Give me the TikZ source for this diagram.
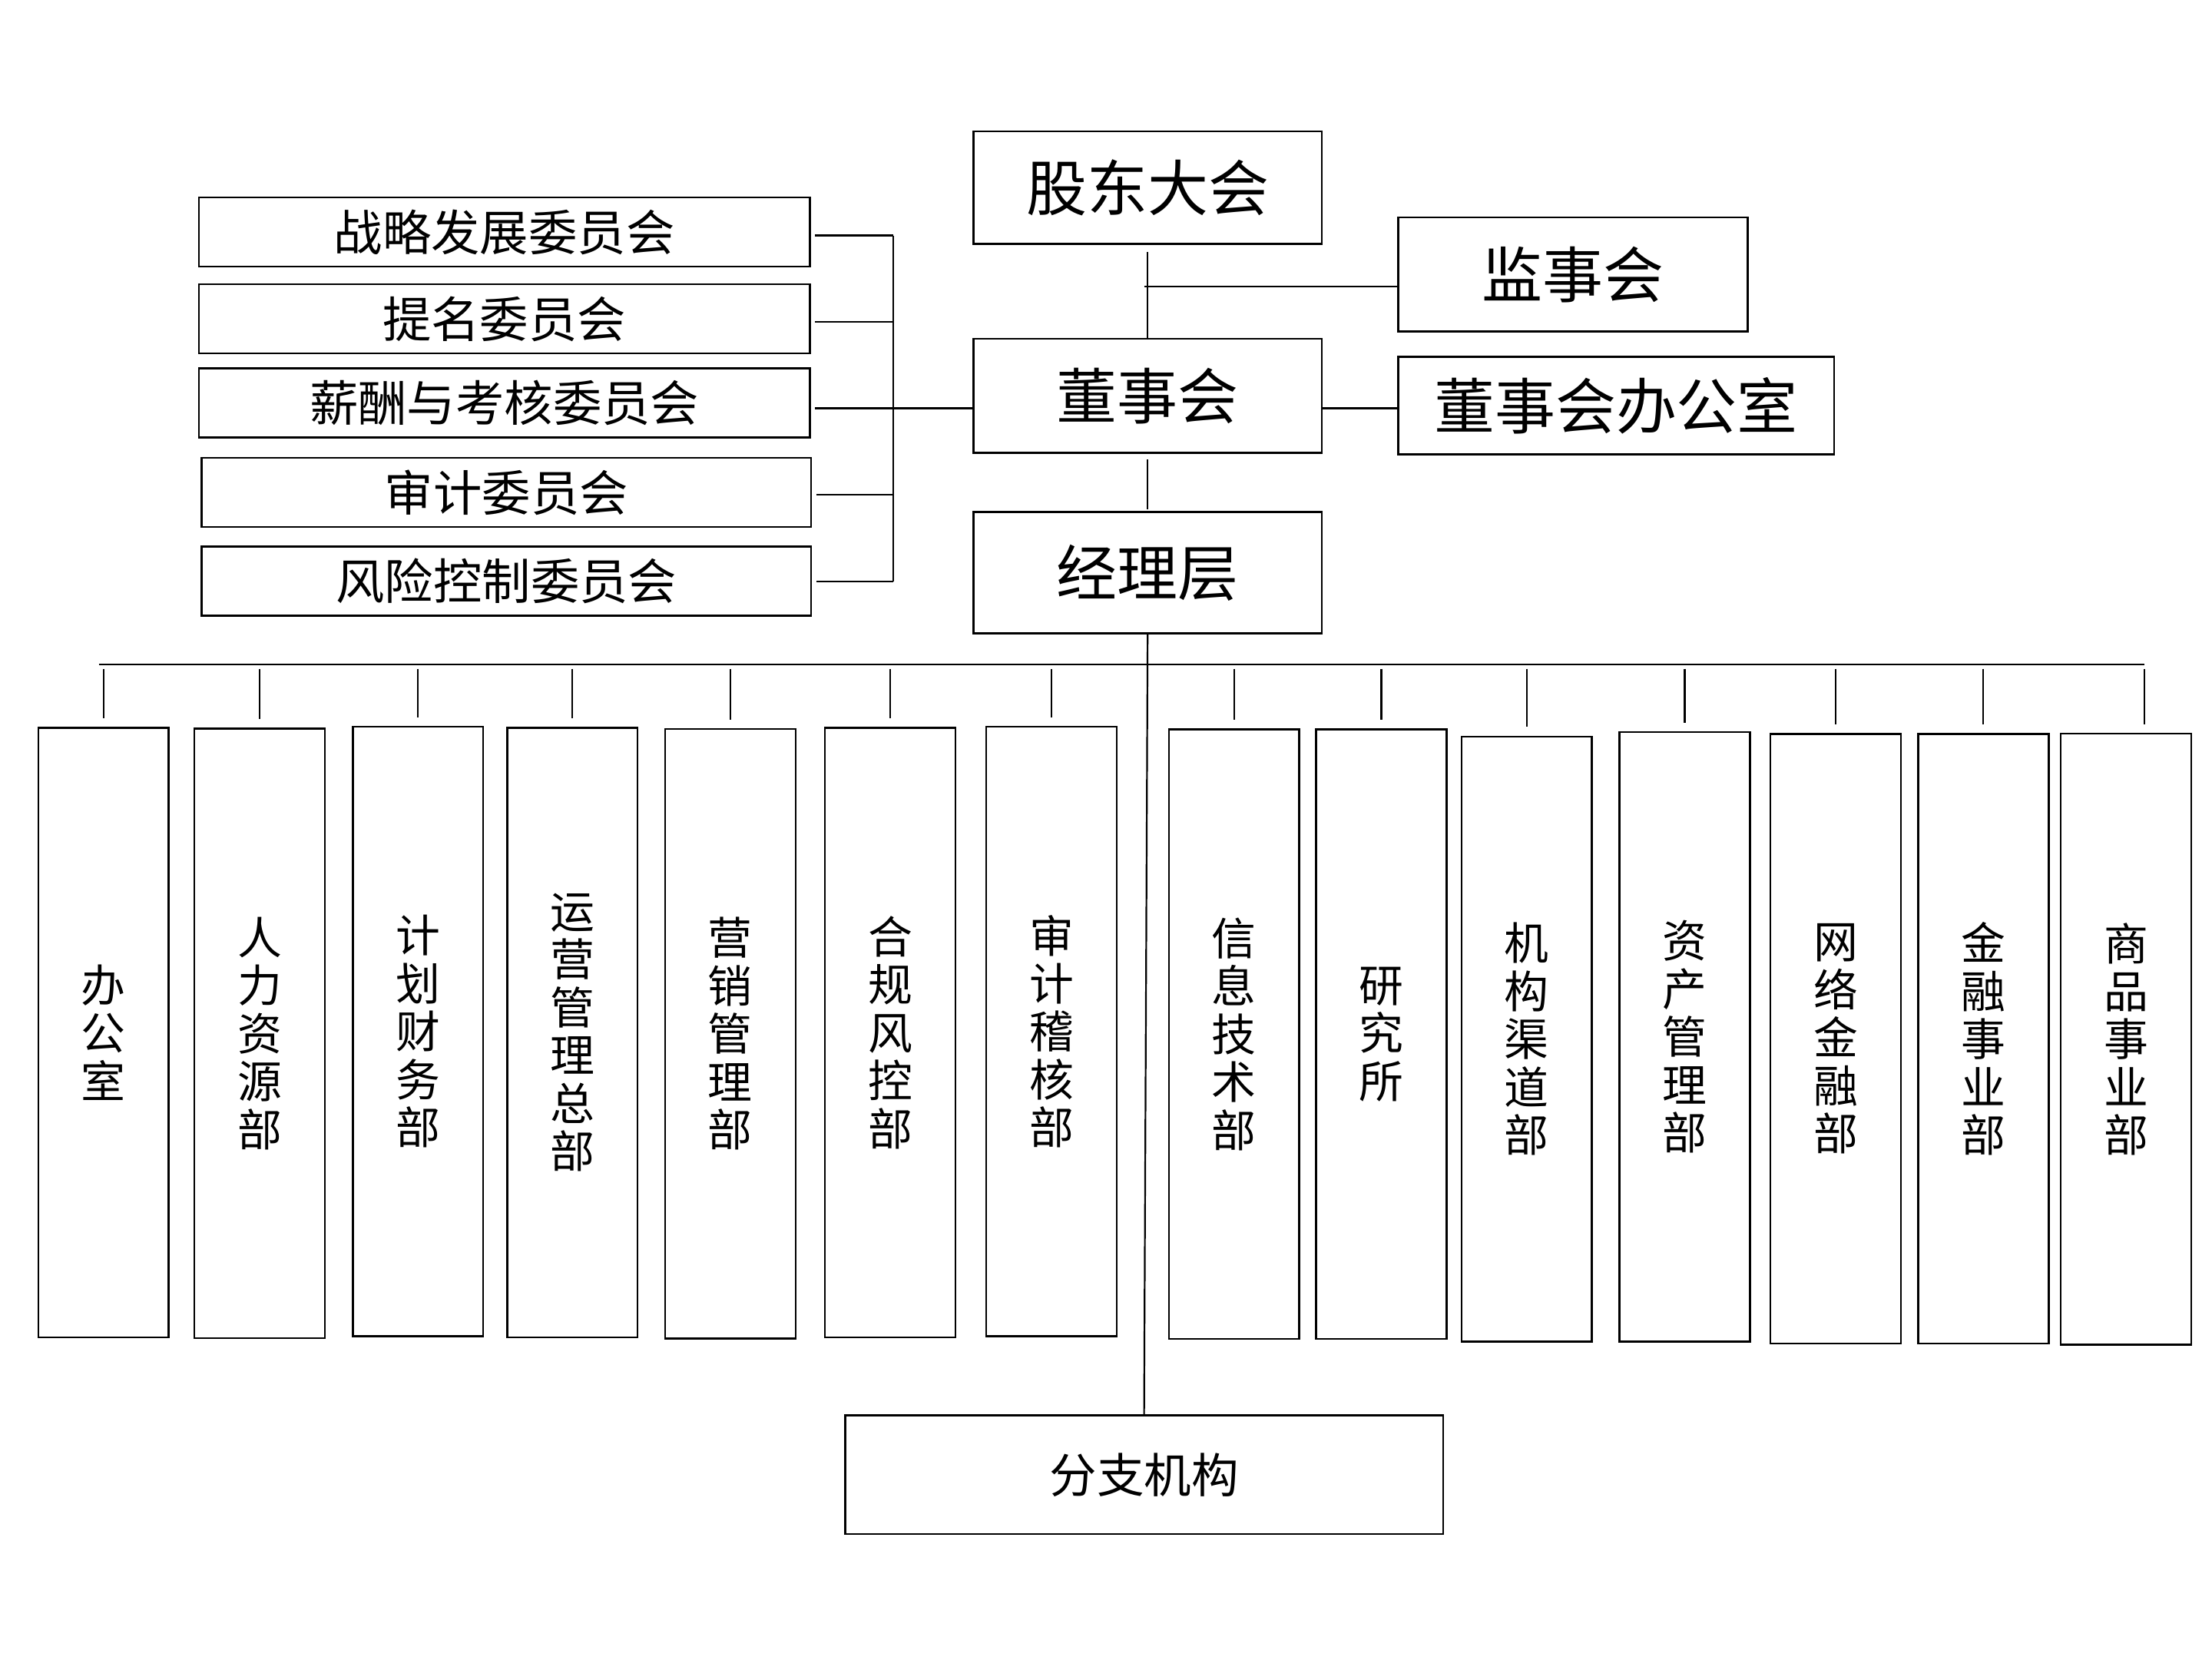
\documentclass[tikz,border=0pt]{standalone}
\usepackage{fontspec}
\setmainfont{Noto Sans CJK SC}
\begin{document}
\begin{tikzpicture}[x=1pt,y=-1pt,
  box/.style={draw=black, line width=1.4pt, fill=white, inner sep=0pt, align=center, anchor=center},
  big/.style={box, font=\fontsize{43}{50}\selectfont},
  cmte/.style={box, minimum width=433pt, minimum height=49pt, font=\fontsize{34.5}{38}\selectfont},
  dept/.style={box, minimum width=92.5pt, minimum height=432pt, font=\fontsize{31.5}{34}\selectfont},
  conn/.style={line width=1.2pt}]
\fill[white] (0,0) rectangle (1568,1176);
\useasboundingbox (0,0) rectangle (1568,1176);

% top level
\node[big, minimum width=247pt, minimum height=80pt] (gd) at (813.5,133) {股东大会};
\node[big, minimum width=248pt, minimum height=81pt] (js) at (1115,194.5) {监事会};
\node[big, minimum width=247pt, minimum height=81pt] (ds) at (813.5,280.5) {董事会};
\node[big, minimum width=309pt, minimum height=69pt] (dsb) at (1145.5,287.5) {董事会办公室};
\node[big, minimum width=247pt, minimum height=86pt] (jl) at (813.5,406) {经理层};

% committees
\node[cmte] (c1) at (357.5,164.5) {战略发展委员会};
\node[cmte] (c2) at (357.5,226) {提名委员会};
\node[cmte] (c3) at (357.5,285.7) {薪酬与考核委员会};
\node[cmte, minimum width=432pt] (c4) at (359,349) {审计委员会};
\node[cmte, minimum width=432pt] (c5) at (359,412) {风险控制委员会};

% departments
\node[dept] (d1) at (73.4,731.8) {办\\公\\室};
\node[dept] (d2) at (184,732.5) {人\\力\\资\\源\\部};
\node[dept] (d3) at (296.3,731) {计\\划\\财\\务\\部};
\node[dept] (d4) at (405.7,731.8) {运\\营\\管\\理\\总\\部};
\node[dept] (d5) at (517.7,732.7) {营\\销\\管\\理\\部};
\node[dept] (d6) at (631,731.8) {合\\规\\风\\控\\部};
\node[dept] (d7) at (745.3,731) {审\\计\\稽\\核\\部};
\node[dept] (d8) at (874.8,733) {信\\息\\技\\术\\部};
\node[dept] (d9) at (979.2,733) {研\\究\\所};
\node[dept, minimum height=429pt] (d10) at (1082.2,736.5) {机\\构\\渠\\道\\部};
\node[dept] (d11) at (1194.2,734.9) {资\\产\\管\\理\\部};
\node[dept] (d12) at (1301.2,736.3) {网\\络\\金\\融\\部};
\node[dept] (d13) at (1405.9,736.3) {金\\融\\事\\业\\部};
\node[dept, minimum height=433pt] (d14) at (1507,736.5) {商\\品\\事\\业\\部};

\node[box, minimum width=424pt, minimum height=84pt, font=\fontsize{33.5}{38}\selectfont] (fz) at (811,1045.2) {分支机构};

% coordinates
\coordinate (supj) at (811,203);
\coordinate (mid) at (633,289.4);
\coordinate (brT) at (633,166.9);
\coordinate (brB) at (633,412);
\coordinate (barL) at (70,471);
\coordinate (barR) at (1520,471);

% vertical spine
\draw[conn, shorten <=5pt] (gd.south) -- (ds.north);
\draw[conn] (supj) -- (js.west |- supj);
\draw[conn, shorten <=4pt, shorten >=1.5pt] (ds.south) -- (jl.north);
\draw[conn] (jl.south) -- (fz.north);
\draw[conn] (ds.east |- mid) -- (dsb.west |- mid);

% committee bracket
\draw[conn] (brT) -- (brB);
\draw[conn] (mid) -- (ds.west |- mid);
\draw[conn, shorten <=3pt] (c1.east |- brT) -- (brT);
\draw[conn, shorten <=3pt] (c2.east |- 0,228) -- (mid |- 0,228);
\draw[conn, shorten <=3pt] (c3.east |- mid) -- (mid);
\draw[conn, shorten <=3pt] (c4.east |- 0,350.6) -- (mid |- 0,350.6);
\draw[conn, shorten <=3pt] (c5.east |- brB) -- (brB);

% department bar
\draw[conn] (barL) -- (barR);
\foreach \d in {d1,d2,d3,d4,d5,d6,d7,d8,d9,d10,d11,d12,d13}{
  \draw[conn, shorten <=3pt, shorten >=6pt] (\d.north |- barL) -- (\d.north);
}
\draw[conn, shorten <=3pt, shorten >=6pt] (barR) -- (barR |- d14.north);
\end{tikzpicture}
\end{document}
